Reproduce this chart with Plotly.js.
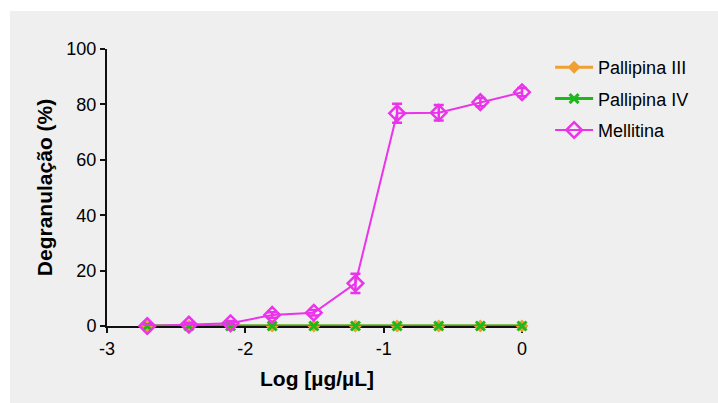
<!DOCTYPE html>
<html>
<head>
<meta charset="utf-8">
<script src="https://cdn.plot.ly/plotly-3.0.1.min.js"></script>
<style>
html,body{margin:0;padding:0;background:#ffffff;}
#chart{position:absolute;left:10px;top:11px;width:708px;height:392px;}
</style>
</head>
<body>
<div id="chart"></div>
<script>
// Data (log10 concentration, two-fold dilutions)
const logConc = [-2.709, -2.408, -2.107, -1.806, -1.505, -1.204, -0.903, -0.602, -0.301, 0];
const pallipinaIII = [0, 0, 0, 0, 0, 0, 0, 0, 0, 0];
const pallipinaIV = [0, 0, 0, 0, 0, 0, 0, 0, 0, 0];
const mellitina = [0, 0.5, 1, 4, 4.8, 15.4, 76.8, 77, 80.8, 84.4];
const mellitinaErr = [0.5, 0.6, 0.8, 1, 1, 3.5, 3.4, 2.8, 1.5, 1.5];
const xTickVals = [-3, -2, -1, 0];
const xTickText = ['-3', '-2', '-1', '0'];
const yTickVals = [0, 20, 40, 60, 80, 100];
const seriesNames = ['Pallipina III', 'Pallipina IV', 'Mellitina'];

const font = "Liberation Sans, Arial, sans-serif";

const traces = [
  {
    x: logConc, y: pallipinaIII, name: seriesNames[0], legendgroup: 'a',
    mode: 'lines+markers', type: 'scatter', cliponaxis: false,
    line: {color: '#f0a030', width: 3},
    marker: {symbol: 'diamond', size: 10, color: '#f0a030'}
  },
  {
    x: logConc, y: pallipinaIV, name: seriesNames[1], legendgroup: 'b',
    mode: 'lines+markers', type: 'scatter', cliponaxis: false,
    line: {color: '#1cb81c', width: 3},
    marker: {symbol: 'x-thin-open', size: 9, line: {color: '#1cb81c', width: 3}}
  },
  {
    x: logConc, y: mellitina, name: seriesNames[2], legendgroup: 'c',
    mode: 'lines+markers', type: 'scatter', cliponaxis: false,
    line: {color: '#ea33ea', width: 2},
    marker: {symbol: 'diamond-open', size: 12, color: '#ea33ea', line: {color: '#ea33ea', width: 2.5}},
    error_y: {type: 'data', array: mellitinaErr, visible: true, color: '#ea33ea', thickness: 2.5, width: 5}
  }
];

const layout = {
  width: 708, height: 392,
  paper_bgcolor: '#efefef', plot_bgcolor: 'rgba(0,0,0,0)',
  margin: {l: 97, r: 191, t: 38, b: 77},
  font: {family: font, color: '#000000', size: 18},
  showlegend: true,
  legend: {
    x: 1.055, y: 1.0, xanchor: 'left', yanchor: 'top',
    itemwidth: 38,
    bgcolor: 'rgba(0,0,0,0)', tracegroupgap: 5,
    font: {family: font, size: 18, color: '#000000'}
  },
  xaxis: {
    range: [-3, 0.036], showgrid: false, zeroline: false, layer: 'below traces',
    showline: true, linecolor: '#111111', linewidth: 2,
    ticks: 'outside', ticklen: 5, tickwidth: 2, tickcolor: '#111111',
    tickvals: xTickVals, ticktext: xTickText,
    tickfont: {family: font, size: 18, color: '#000000'},
    title: {text: '<b>Log [µg/µL]</b>', font: {family: font, size: 21, color: '#000000'}, standoff: 14}
  },
  yaxis: {
    range: [0, 100], showgrid: false, zeroline: false, layer: 'below traces',
    showline: true, linecolor: '#111111', linewidth: 2,
    ticks: 'outside', ticklen: 5, tickwidth: 2, tickcolor: '#111111',
    tickvals: yTickVals,
    tickfont: {family: font, size: 18, color: '#000000'},
    title: {text: '<b>Degranulação (%)</b>', font: {family: font, size: 21, color: '#000000'}, standoff: 8}
  }
};

Plotly.newPlot('chart', traces, layout, {displayModeBar: false, staticPlot: true});
</script>
</body>
</html>
